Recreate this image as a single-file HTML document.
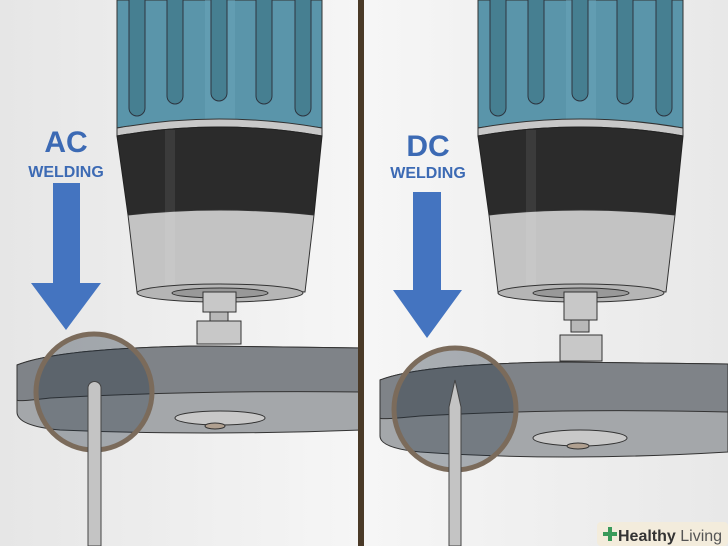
<!DOCTYPE html>
<html><head><meta charset="utf-8"><style>
html,body{margin:0;padding:0;width:728px;height:546px;overflow:hidden;background:#ececec}
svg{display:block}
</style></head><body>
<svg width="728" height="546" viewBox="0 0 728 546" xmlns="http://www.w3.org/2000/svg">
<defs>
<linearGradient id="bg" x1="0" x2="1" y1="0" y2="0">
<stop offset="0" stop-color="#e6e6e6"/><stop offset="0.5" stop-color="#f6f6f6"/><stop offset="1" stop-color="#e8e8e8"/>
</linearGradient>
<g id="torch">
<path d="M117 0 H322 V128 Q219 112 117 128 Z" fill="#5a95aa" stroke="#333" stroke-width="1"/>
<rect x="205" y="0" width="30" height="120" fill="#6aa5ba" opacity="0.5"/>
<g fill="#467f91" stroke="#2d3540" stroke-width="1">
<path d="M129 0 V108 a8 8 0 0 0 16 0 V0"/>
<path d="M167 0 V96 a8 8 0 0 0 16 0 V0"/>
<path d="M211 0 V93 a8 8 0 0 0 16 0 V0"/>
<path d="M256 0 V96 a8 8 0 0 0 16 0 V0"/>
<path d="M295 0 V108 a8 8 0 0 0 16 0 V0"/>
</g>
<path d="M117 128 Q219 110 322 128 V136 Q219 118 117 136 Z" fill="#c8c8c8" stroke="#333" stroke-width="1"/>
<path d="M117 136 Q219 118 322 136 L314 215 Q219 205 128 215 Z" fill="#2b2b2b" stroke="#222"/>
<path d="M128 215 Q219 205 314 215 L305 292 Q219 284 137 292 Z" fill="#c3c3c3" stroke="#333"/>
<rect x="165" y="130" width="10" height="160" fill="#fff" opacity="0.08"/>
<ellipse cx="220" cy="293" rx="83" ry="9" fill="#b5b5b5" stroke="#333"/>
<ellipse cx="220" cy="293" rx="48" ry="5" fill="#999" stroke="#333"/>
</g>
</defs>
<rect width="728" height="546" fill="url(#bg)"/>

<!-- LEFT PANEL -->
<use href="#torch"/>
<rect x="203" y="292" width="33" height="20" fill="#c8c8c8" stroke="#333"/>
<rect x="210" y="312" width="18" height="10" fill="#b8b8b8" stroke="#333"/>
<rect x="197" y="321" width="44" height="23" fill="#c8c8c8" stroke="#333"/>
<!-- disc -->
<path d="M17 365 Q60 348 200 346 L362 348 V430 Q200 436 60 430 Q17 426 17 412 Z" fill="#a4a7aa" stroke="#333"/>
<path d="M17 365 Q60 348 200 346 L362 348 V392 Q200 390 50 398 Q17 402 17 400 Z" fill="#7f8388" stroke="#333"/>
<ellipse cx="220" cy="418" rx="45" ry="7" fill="#c8c8c8" stroke="#333"/>
<ellipse cx="215" cy="426" rx="10" ry="3" fill="#b0a090" stroke="#333"/>
<circle cx="94" cy="392" r="58" fill="#1c2a38" opacity="0.35"/>
<circle cx="94" cy="392" r="58" fill="none" stroke="#7b6b5b" stroke-width="5"/>
<path d="M88 388 a6.5 6.5 0 0 1 13 0 V546 H88 Z" fill="#c4c4c4" stroke="#444"/>
<!-- arrow -->
<rect x="53" y="183" width="27" height="101" fill="#4474c0"/>
<polygon points="31,283 101,283 66,330" fill="#4474c0"/>
<text x="66" y="152" font-family="Liberation Sans, sans-serif" font-weight="bold" font-size="30" fill="#3c6ab4" text-anchor="middle">AC</text>
<text x="66" y="177" font-family="Liberation Sans, sans-serif" font-weight="bold" font-size="16" fill="#3c6ab4" text-anchor="middle">WELDING</text>

<!-- divider -->
<rect x="358" y="0" width="6" height="546" fill="#4a3a28"/>

<!-- RIGHT PANEL -->
<use href="#torch" x="361"/>
<rect x="564" y="292" width="33" height="28" fill="#c8c8c8" stroke="#333"/>
<rect x="571" y="320" width="18" height="12" fill="#b8b8b8" stroke="#333"/>
<rect x="560" y="335" width="42" height="26" fill="#c8c8c8" stroke="#333"/>
<path d="M380 380 Q420 364 560 362 L728 364 V452 Q560 462 420 452 Q380 448 380 436 Z" fill="#a4a7aa" stroke="#333"/>
<path d="M380 380 Q420 364 560 362 L728 364 V412 Q560 408 420 416 Q380 420 380 418 Z" fill="#7f8388" stroke="#333"/>
<ellipse cx="580" cy="438" rx="47" ry="8" fill="#c8c8c8" stroke="#333"/>
<ellipse cx="578" cy="446" rx="11" ry="3" fill="#b0a090" stroke="#333"/>
<circle cx="455" cy="409" r="61" fill="#1c2a38" opacity="0.35"/>
<circle cx="455" cy="409" r="61" fill="none" stroke="#7b6b5b" stroke-width="5"/>
<path d="M455 380 L461 407 V546 H449 V407 Z" fill="#c4c4c4" stroke="#444"/>
<rect x="413" y="192" width="28" height="99" fill="#4474c0"/>
<polygon points="393,290 462,290 427,338" fill="#4474c0"/>
<text x="428" y="156" font-family="Liberation Sans, sans-serif" font-weight="bold" font-size="30" fill="#3c6ab4" text-anchor="middle">DC</text>
<text x="428" y="178" font-family="Liberation Sans, sans-serif" font-weight="bold" font-size="16" fill="#3c6ab4" text-anchor="middle">WELDING</text>

<!-- logo -->
<rect x="597" y="522" width="131" height="24" rx="4" fill="#f3ecdc"/>
<path d="M603 532 h5 v-5 h4 v5 h5 v4 h-5 v5 h-4 v-5 h-5 Z" fill="#3a9a5a"/>
<text x="618" y="541" font-family="Liberation Sans, sans-serif" font-size="16" fill="#333"><tspan font-weight="bold">Healthy</tspan><tspan fill="#555"> Living</tspan></text>
</svg>
</body></html>
